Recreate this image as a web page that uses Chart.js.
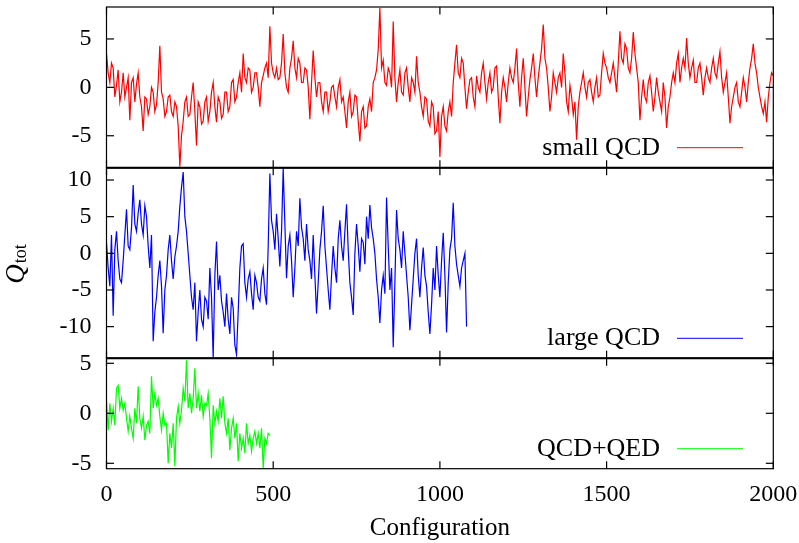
<!DOCTYPE html>
<html>
<head>
<meta charset="utf-8">
<script src="https://cdn.jsdelivr.net/npm/chart.js@4.4.0/dist/chart.umd.min.js"></script>
<style>
  body { margin: 0; background: #fff; }
</style>
</head>
<body>
<canvas id="chart" width="799" height="543"></canvas>
<script>
// Q_tot histories, sampled off the plot (one value every `step` configurations)
const smallStep = 5;
const smallQCD = [
  3.5, 1.5, 0.5, 2.5, 2.0, -1.0, 0.2, 1.8, -1.5, -0.5, 1.5, -1.0, 0.0, 1.0, -3.4, 0.5, 1.0, -1.5, 0.3, 1.5,
  -1.0, -2.0, -4.5, -1.0, -1.2, -2.8, -2.0, 0.0, -0.5, -2.5, -1.8, 0.5, 4.3, -0.5, -1.2, -3.0, -2.5, -1.0, -0.8, -2.5,
  -3.0, -1.5, -2.0, -4.0, -8.2, -5.0, -3.5, -1.5, -1.0, -3.0, -2.8, -1.0, 0.5, -2.5, -6.0, -1.5, -2.0, -3.8, -3.5, -1.5,
  -1.0, -3.5, -2.5, -0.5, 0.5, -2.0, -3.6, -1.0, -1.5, -3.2, -2.8, -0.5, -0.5, -2.5, -2.0, 0.5, 0.8, -1.5, -1.0, 0.5,
  1.5, -0.5, 3.5, 1.0, 0.5, 2.0, 1.8, -0.5, 0.0, 1.5, 1.5, 0.0, -2.0, 0.5, 1.2, 2.0, 2.5, 1.0, 6.3, 2.5,
  1.5, 1.0, 2.0, 0.8, 1.0, 2.5, 5.5, 1.5, 0.0, -0.5, 2.0, 3.0, 4.8, 2.0, 1.0, 3.0, 2.5, 0.5, 0.5, 2.0,
  1.8, 0.0, -3.3, 0.5, 3.8, 1.0, -1.0, 0.5, 0.5, -1.5, -2.5, -0.5, -0.5, -2.5, -1.5, 0.0, 0.2, -1.0, -2.0, 0.0,
  0.8, -1.5, -1.0, -2.5, -4.2, -1.5, -0.5, -3.0, -2.5, -0.8, -1.0, -3.5, -5.6, -2.5, -2.0, -4.2, -4.0, -2.0, -1.2, -2.5,
  0.5, 1.0, 1.8, 3.9, 8.2, 2.0, 2.8, 0.5, 0.2, 2.0, 1.5, 0.0, 6.8, 1.0, -1.5, 0.5, 1.8, -0.5, -0.8, 1.5,
  2.0, 0.0, -1.5, 1.0, 0.5, -0.5, 3.2, 0.5, -0.5, -2.0, -3.0, -1.0, -1.2, -3.5, -4.0, -1.5, -2.0, -4.8, -4.5, -2.5,
  -7.2, -3.0, -2.0, -4.0, -4.5, -2.5, -1.5, -3.0, 0.5, 2.5, 4.4, 1.5, 1.0, 3.0, 2.5, 0.0, -2.2, -0.5, 0.8, 1.0,
  -1.0, -2.0, 1.2, 0.0, -0.5, 1.5, 2.5, 0.5, -1.2, 0.5, 1.5, -0.5, 0.0, 2.0, 2.2, -1.0, -3.7, -0.5, 1.0, 0.0,
  -1.5, 0.5, 2.0, 1.0, 0.5, 2.0, 4.0, 0.5, -2.0, 1.0, 3.0, 0.0, -3.0, -1.0, 0.8, 2.0, 3.5, 1.0, -1.0, 1.0,
  2.5, 4.0, 6.5, 3.0, 2.0, 0.0, -2.5, -1.0, 1.5, 0.5, -0.5, 1.0, 1.5, 0.0, 3.5, 1.5, -1.5, -2.5, 0.2, -1.0,
  -2.8, -1.5, -5.4, -2.0, -0.5, 0.5, 1.5, 0.0, -1.0, 0.5, 0.8, -0.5, -1.5, 0.0, 1.0, -1.0, -0.8, 1.5, 3.5, 2.5,
  2.0, 1.0, 0.5, 1.5, 2.5, 1.0, -0.5, 2.5, 5.8, 3.0, 2.5, 4.5, 4.0, 2.0, 1.5, 3.0, 5.7, 3.5, 2.0, 0.5,
  -3.4, -1.0, 0.8, -1.0, -1.5, 0.5, 1.2, -0.5, -2.5, -1.0, 1.0, -0.5, -1.5, -2.5, 0.5, -1.0, -4.2, -2.0, -1.0, 0.5,
  1.5, 0.5, 2.5, 3.5, 0.5, 2.0, 3.0, 2.0, 5.1, 2.5, 1.0, 2.0, 2.8, 0.5, 0.5, 2.0, 2.5, 1.0, -0.8, 1.0,
  2.0, 1.0, 0.5, 2.0, 3.0, 1.5, 1.0, 2.5, 3.7, 1.0, -0.5, 0.5, 1.5, -1.0, -3.7, -2.0, -1.0, 0.0, 0.5, -1.5,
  -2.0, -0.5, 1.0, 0.0, -1.5, 0.5, 2.0, 3.0, 4.5, 2.5, 1.5, 0.0, -1.0, -2.0, -2.7, -1.5, -3.6, -1.0, 0.5, 1.5,
  1.2
];

const largeStep = 5;
const largeQCD = [
  1.4, -2.0, -4.5, 2.5, -8.5, 0.5, 3.0, -1.0, -3.5, -4.0, -1.0, 2.5, 6.0, 1.0, 0.5, 3.5, 9.3, 4.0, 3.0, 5.5,
  7.3, 4.0, 2.5, 6.5, 5.0, 1.0, -2.0, 2.5, -12.0, -8.0, -6.0, -3.0, -1.0, -4.5, -10.9, -5.0, -3.0, 0.5, 2.5, -1.0,
  -3.5, -0.5, 1.0, 3.0, 6.4, 9.0, 11.1, 5.0, 3.0, 0.0, -3.0, -6.0, -7.7, -4.0, -12.0, -8.0, -5.0, -9.0, -10.0, -6.0,
  -6.5, -9.0, -2.0, -6.0, -14.3, -3.0, 1.6, -5.0, -3.0, -6.5, -8.0, -10.0, -5.5, -9.0, -11.0, -6.0, -7.5, -12.5, -13.8, -8.0,
  -2.0, 1.0, 1.3, -4.0, -6.0, -3.5, -2.5, -5.5, -7.7, -3.0, -4.0, -6.0, -6.5, -3.5, -2.0, -5.5, -7.0, 1.0, 10.9, 4.5,
  3.0, 0.5, 5.4, 2.0, -1.8, 3.0, 11.6, 4.0, -3.4, 1.0, 2.5, -1.0, -6.0, -2.0, 3.0, 1.0, 7.5, 3.5, 2.0, -1.0,
  4.0, 0.5, -1.0, -3.5, 2.5, -3.0, -8.2, -4.0, 0.5, 3.0, 6.5, 1.0, -2.0, -5.0, -7.7, -3.0, 1.0, -2.0, -4.0, 2.0,
  4.5, 1.0, -1.0, 3.0, 6.7, 0.5, -4.0, -6.0, -8.4, 0.0, 4.0, 1.0, -2.5, 2.0, 1.5, -1.5, 5.0, 2.0, 6.6, 3.5,
  2.0, 0.0, -3.5, -6.0, -9.5, -5.0, -3.0, -5.5, 7.6, 1.0, -5.0, -2.0, -12.8, -4.0, 5.9, 2.0, 0.5, -2.0, 3.0, 0.0,
  -3.0, -6.0, -10.5, -7.0, -3.5, 0.0, 2.0, -3.0, -6.0, -2.0, 0.8, -3.0, -4.5, -8.0, -11.0, -7.0, -2.0, -5.0, 1.0, -3.0,
  -6.0, -1.0, 2.8, -3.0, -10.8, -4.0, 0.5, 2.0, 6.9, 1.0, -1.5, -3.0, -4.5, -2.0, -1.0, 0.0, -10.0
];

const qedStep = 5;
const qcdQED = [
  1.3, -1.7, 1.0, -0.8, 0.5, -1.2, 2.5, 2.8, 0.5, 1.5,
  0.3, 1.0, -0.5, -1.8, -0.3, -1.5, -2.5, 0.5, -1.0, 2.7,
  -0.5, -1.5, -0.3, -2.7, -1.2, -0.8, -2.0, 3.7, 0.5, 2.0,
  0.8, 1.5, -0.3, -1.7, 0.0, -1.2, -1.0, -5.0, -2.0, -3.5,
  -1.0, -5.3, -0.5, 0.7, -1.0, 0.3, 2.5, 1.2, 5.3, 0.5,
  2.0, 0.0, 1.5, 4.5, 0.5, 2.0, 0.2, 1.8, -0.3, 1.0,
  0.8, 2.0, -0.5, -4.5, 0.8, -1.0, 0.2, -0.8, 1.5, -0.5,
  1.7, -1.0, -2.0, -0.5, -3.7, -1.5, -0.5, -2.5, -1.0, -4.8,
  -2.0, -3.5, -2.5, -4.0, -1.0, -3.0, -2.2, -3.8, -2.5, -1.8,
  -3.0, -2.0, -3.5, -1.5, -5.5, -2.5, -3.0, -2.0, -2.2
];

const seriesNames = ['small QCD', 'large QCD', 'QCD+QED'];
const xTicks = [0, 500, 1000, 1500, 2000];
const topTicks = [-5, 0, 5];
const midTicks = [-10, -5, 0, 5, 10];
const botTicks = [-5, 0, 5];

const serif = "'Liberation Serif', 'DejaVu Serif', serif";
Chart.defaults.font.family = serif;
Chart.defaults.color = '#000';

function toPoints(values, step) {
  return values.map((v, i) => ({x: i * step, y: v}));
}

function noPad(s) {
  s.paddingLeft = 0; s.paddingRight = 0; s.paddingTop = 0; s.paddingBottom = 0;
}

function yAxis(min, max, weight, ticks) {
  return {
    type: 'linear',
    position: 'left',
    stack: 'q',
    stackWeight: weight,
    min: min,
    max: max,
    afterBuildTicks: s => { s.ticks = ticks.map(v => ({value: v})); },
    afterFit: s => { s.width = 106.5; noPad(s); },
    grid: {display: false, drawTicks: false},
    border: {display: false},
    ticks: {padding: 15, autoSkip: false, font: {size: 24}, callback: v => String(v)}
  };
}

// panel id, its ticks, which dataset it holds
const panels = [
  {id: 'yTop', ticks: topTicks, ds: 0},
  {id: 'yMid', ticks: midTicks, ds: 1},
  {id: 'yBot', ticks: botTicks, ds: 2}
];

const frame = {
  id: 'frame',
  afterDatasetsDraw(chart) {
    const {ctx, chartArea: a, scales} = chart;
    const line = (x1, y1, x2, y2) => {
      ctx.beginPath(); ctx.moveTo(x1, y1); ctx.lineTo(x2, y2); ctx.stroke();
    };
    const tl = 7.5;
    ctx.save();
    ctx.strokeStyle = '#000';
    ctx.lineWidth = 1.2;
    panels.forEach(p => {
      const ys = scales[p.id];
      ctx.strokeRect(a.left, ys.top, a.right - a.left, ys.bottom - ys.top);
      xTicks.forEach(v => {
        const px = scales.x.getPixelForValue(v);
        line(px, ys.top, px, ys.top + tl);
        line(px, ys.bottom, px, ys.bottom - tl);
      });
      p.ticks.forEach(v => {
        const py = ys.getPixelForValue(v);
        line(a.left, py, a.left + tl, py);
        line(a.right, py, a.right - tl, py);
      });

      // key, bottom right of each panel
      const ds = chart.data.datasets[p.ds];
      const ky = ys.bottom - 20;
      ctx.fillStyle = '#000';
      ctx.font = '26px ' + serif;
      ctx.textAlign = 'right';
      ctx.textBaseline = 'middle';
      ctx.fillText(ds.label, 660, ky);
      ctx.strokeStyle = ds.borderColor;
      ctx.lineWidth = 1;
      line(677, ky, 743, ky);
      ctx.strokeStyle = '#000';
      ctx.lineWidth = 1.2;
    });
    // shared edges between panels look heavier
    ctx.lineWidth = 2;
    line(a.left, scales.yTop.bottom, a.right, scales.yTop.bottom);
    line(a.left, scales.yMid.bottom, a.right, scales.yMid.bottom);

    // y title Q_tot
    ctx.translate(24, 264);
    ctx.rotate(-Math.PI / 2);
    ctx.textAlign = 'left';
    ctx.textBaseline = 'alphabetic';
    ctx.font = 'italic 27px ' + serif;
    const wQ = ctx.measureText('Q').width;
    ctx.font = '18px ' + serif;
    const wS = ctx.measureText('tot').width;
    const x0 = -(wQ + wS + 1) / 2;
    ctx.font = 'italic 27px ' + serif;
    ctx.fillText('Q', x0, 0);
    ctx.font = '18px ' + serif;
    ctx.fillText('tot', x0 + wQ + 1, 2);
    ctx.restore();
  }
};

new Chart(document.getElementById('chart'), {
  type: 'line',
  data: {
    datasets: [
      {label: seriesNames[0], data: toPoints(smallQCD, smallStep), yAxisID: 'yTop',
       borderColor: '#ff0000', borderWidth: 1.2, pointRadius: 0, tension: 0},
      {label: seriesNames[1], data: toPoints(largeQCD, largeStep), yAxisID: 'yMid',
       borderColor: '#0000ff', borderWidth: 1.2, pointRadius: 0, tension: 0},
      {label: seriesNames[2], data: toPoints(qcdQED, qedStep), yAxisID: 'yBot',
       borderColor: '#00ff00', borderWidth: 1.2, pointRadius: 0, tension: 0}
    ]
  },
  options: {
    responsive: false,
    animation: false,
    events: [],
    layout: {padding: {top: 7, right: 25.7, bottom: 0, left: 0}},
    plugins: {legend: {display: false}, tooltip: {enabled: false}},
    scales: {
      x: {
        type: 'linear',
        min: 0,
        max: 2000,
        afterBuildTicks: s => { s.ticks = xTicks.map(v => ({value: v})); },
        afterFit: s => { s.height = 74.3; noPad(s); },
        grid: {display: false, drawTicks: false},
        border: {display: false},
        ticks: {padding: 12, maxRotation: 0, autoSkip: false, font: {size: 24}, callback: v => String(v)},
        title: {display: true, text: 'Configuration', font: {size: 25}, padding: {top: 0, bottom: 0}}
      },
      // stacked axes are laid out bottom-up in definition order
      yBot: yAxis(-5.54, 5.5, 110.4, botTicks),
      yMid: yAxis(-14.32, 11.68, 190.6, midTicks),
      yTop: yAxis(-8.3, 8.3, 160.7, topTicks)
    }
  },
  plugins: [frame]
});
</script>
</body>
</html>
